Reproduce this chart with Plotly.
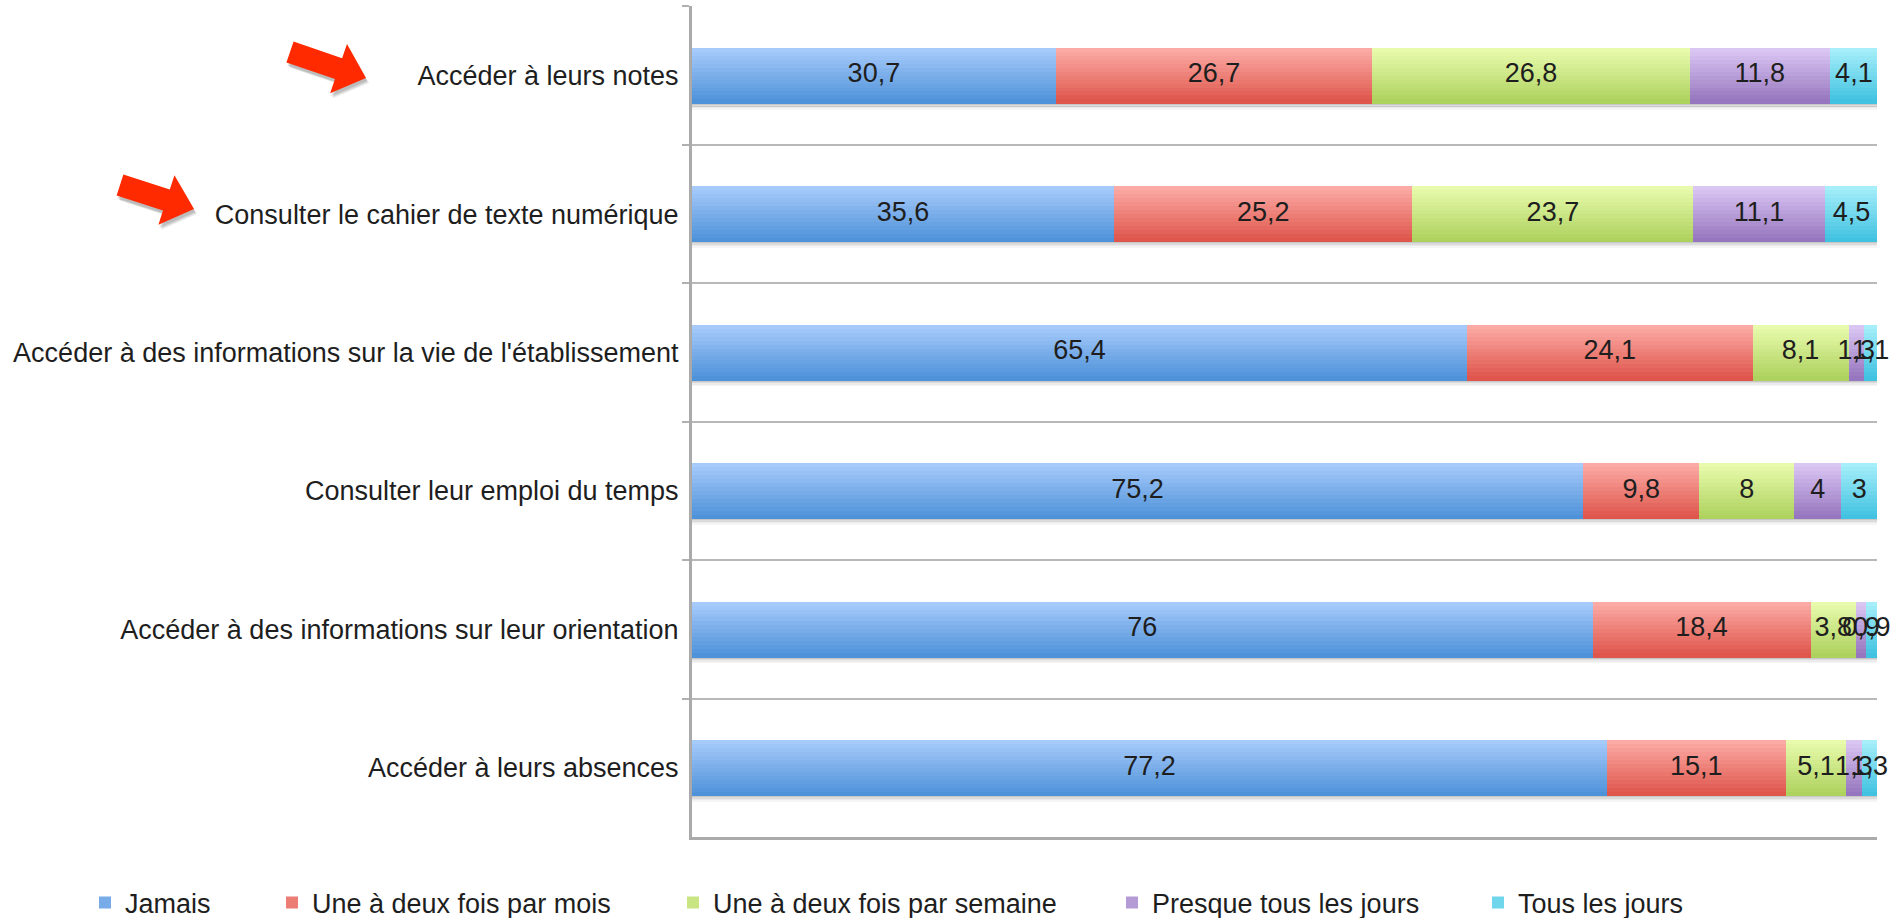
import plotly.graph_objects as go
import math

# ---------------- data ----------------
categories = [
    "Accéder à leurs notes",
    "Consulter le cahier de texte numérique",
    "Accéder à des informations sur la vie de l'établissement",
    "Consulter leur emploi du temps",
    "Accéder à des informations sur leur orientation",
    "Accéder à leurs absences",
]
series_names = [
    "Jamais",
    "Une à deux fois par mois",
    "Une à deux fois par semaine",
    "Presque tous les jours",
    "Tous les jours",
]
jamais = [30.7, 35.6, 65.4, 75.2, 76, 77.2]
une_deux_mois = [26.7, 25.2, 24.1, 9.8, 18.4, 15.1]
une_deux_semaine = [26.8, 23.7, 8.1, 8, 3.8, 5.1]
presque_tous = [11.8, 11.1, 1.3, 4, 0.9, 1.3]
tous_jours = [4.1, 4.5, 1.1, 3, 0.9, 1.3]
series_values = [jamais, une_deux_mois, une_deux_semaine, presque_tous, tous_jours]

# ---------------- style ----------------
W, H = 1891, 918
ML, MR, MT, MB = 692, 14, 6, 81
PW, PH = W - ML - MR, H - MT - MB
FONT = "Liberation Sans"
TXT = "#1e1e1e"
grad = [  # (top, bottom) colours for the bar gradient
    ((166, 202, 250), (78, 146, 218)),
    ((252, 170, 165), (222, 86, 76)),
    ((232, 250, 172), (174, 210, 94)),
    ((218, 198, 243), (150, 118, 190)),
    ((166, 238, 250), (64, 194, 224)),
]
BAR_W = 0.4
K = 14

def mix(c1, c2, t):
    return "rgb(%d,%d,%d)" % tuple(round(a + (b - a) * t) for a, b in zip(c1, c2))

def fmt(v):
    return ("%g" % v).replace(".", ",")

fig = go.Figure()

# drop shadows under the bars
totals = [sum(s[i] for s in series_values) for i in range(len(categories))]
for j, a in enumerate([0.22, 0.14, 0.08, 0.04]):
    fig.add_trace(go.Bar(
        y=categories, x=totals, base=[0] * len(categories), orientation="h",
        width=0.012, offset=BAR_W / 2 + j * 0.011,
        marker=dict(color="rgba(0,0,0,%.2f)" % a, line=dict(width=0)),
        showlegend=False, hoverinfo="skip"))

# gradient bars
starts = [0.0] * len(categories)
for si, (name, vals) in enumerate(zip(series_names, series_values)):
    top, bot = grad[si]
    for k in range(K):
        t = k / (K - 1)
        fig.add_trace(go.Bar(
            y=categories, x=vals, base=starts[:], orientation="h",
            width=BAR_W / K + 0.004, offset=-BAR_W / 2 + k * BAR_W / K,
            marker=dict(color=mix(top, bot, t), line=dict(width=0)),
            name=name, legendgroup=name,
            legend="legend" if si == 0 else "legend%d" % (si + 1),
            showlegend=(k == K // 2), hoverinfo="skip"))
    # value labels centred in each segment
    fig.add_trace(go.Scatter(
        y=categories, x=[s + v / 2 for s, v in zip(starts, vals)],
        mode="text", text=[fmt(v) for v in vals],
        textfont=dict(family=FONT, size=27, color=TXT),
        showlegend=False, hoverinfo="skip", cliponaxis=False))
    starts = [s + v for s, v in zip(starts, vals)]

# decorative red arrows (pixel geometry -> paper coords)
def px2paper(x, y):
    return (x - ML) / PW, (H - MB - y) / PH

def arrow_path(tail, tip, sw=11, hw=26, hl=29, dx=0, dy=0):
    tx, ty = tail[0] + dx, tail[1] + dy
    px, py = tip[0] + dx, tip[1] + dy
    L = math.hypot(px - tx, py - ty)
    ux, uy = (px - tx) / L, (py - ty) / L
    nx, ny = -uy, ux
    hx, hy = px - ux * hl, py - uy * hl
    pts = [(tx + nx * sw, ty + ny * sw), (hx + nx * sw, hy + ny * sw),
           (hx + nx * hw, hy + ny * hw), (px, py),
           (hx - nx * hw, hy - ny * hw), (hx - nx * sw, hy - ny * sw),
           (tx - nx * sw, ty - ny * sw)]
    pp = [px2paper(*p) for p in pts]
    return "M" + " L".join("%.5f,%.5f" % p for p in pp) + " Z"

shapes = []
for tail, tip in [((290, 52), (366, 78)), ((120, 185), (194, 209))]:
    for j, a in enumerate([0.10, 0.10, 0.08]):
        shapes.append(dict(type="path", xref="paper", yref="paper",
                           path=arrow_path(tail, tip, dx=1 + j, dy=3 + j),
                           fillcolor="rgba(0,0,0,%.2f)" % a, line=dict(width=0)))
    shapes.append(dict(type="path", xref="paper", yref="paper",
                       path=arrow_path(tail, tip),
                       fillcolor="#ff2a00", line=dict(width=0)))

# legends, one per series, placed along the bottom (container coordinates)
leg_text_x = [125, 312, 713, 1152, 1518]
legends = {}
for i, tx in enumerate(leg_text_x):
    key = "legend" if i == 0 else "legend%d" % (i + 1)
    legends[key] = dict(x=(tx - 40) / W, y=(H - 903) / H,
                        xref="container", yref="container",
                        xanchor="left", yanchor="middle",
                        orientation="h", bgcolor="rgba(0,0,0,0)",
                        font=dict(family=FONT, size=27, color=TXT),
                        itemwidth=30)

fig.update_layout(
    width=W, height=H,
    margin=dict(l=ML, r=MR, t=MT, b=MB, pad=0),
    paper_bgcolor="white", plot_bgcolor="white",
    barmode="overlay", bargap=0,
    font=dict(family=FONT, size=27, color=TXT),
    shapes=shapes,
    showlegend=True,
    xaxis=dict(range=[0, 100], showgrid=False, zeroline=False,
               showticklabels=False, ticks="",
               showline=True, linecolor="#aaaaaa", linewidth=3, fixedrange=True),
    yaxis=dict(type="category", categoryorder="array", categoryarray=categories,
               range=[len(categories) - 0.5, -0.503],
               tickson="boundaries", ticks="outside", ticklen=7,
               tickcolor="#b0b0b0", tickwidth=2,
               showgrid=True, gridcolor="#b8b8b8", gridwidth=2,
               showline=True, linecolor="#aaaaaa", linewidth=3,
               zeroline=False, ticklabelstandoff=5,
               tickfont=dict(family=FONT, size=27, color=TXT)),
    **legends,
)

fig.write_html("out.html", config={"displayModeBar": False},
               post_script="document.body.style.margin='0';")
